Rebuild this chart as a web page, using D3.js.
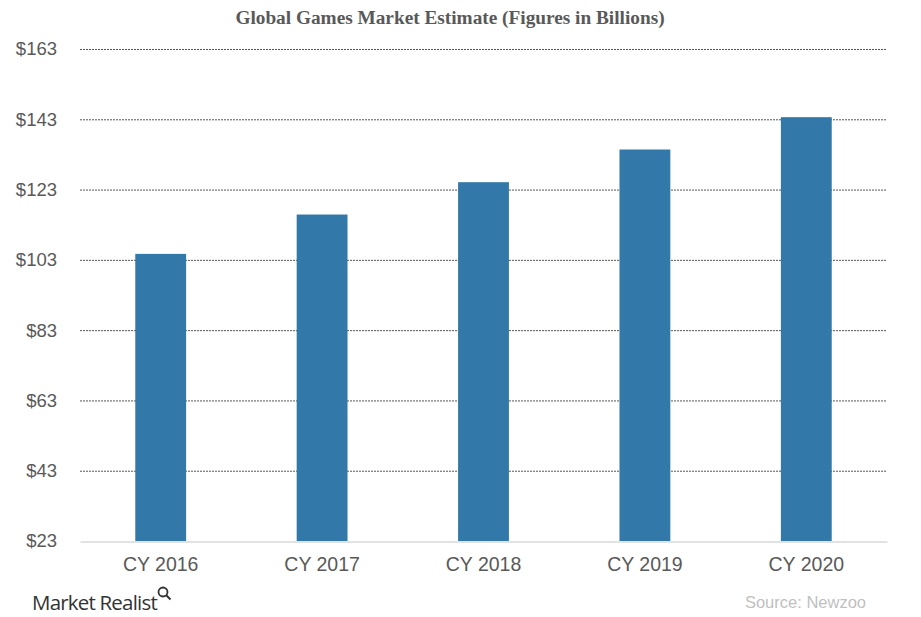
<!DOCTYPE html>
<html>
<head>
<meta charset="utf-8">
<script src="https://cdn.jsdelivr.net/npm/d3@7"></script>
<style>
  body { margin: 0; background: #fff; }
</style>
</head>
<body>
<div id="chart"></div>
<script>
var years = ["CY 2016", "CY 2017", "CY 2018", "CY 2019", "CY 2020"];
var revenue = [104.7, 115.9, 125.1, 134.4, 143.6];
var yTicks = [23, 43, 63, 83, 103, 123, 143, 163];

var width = 921,
    height = 617;
var margin = {top: 49, right: 34, bottom: 76, left: 80};

var svg = d3.select("#chart")
    .append("svg")
    .attr("width", width)
    .attr("height", height);

var x = d3.scaleBand()
    .domain(years)
    .range([margin.left, width - margin.right])
    .paddingInner(0.685)
    .paddingOuter(0.3425);

var y = d3.scaleLinear()
    .domain([23, 163])
    .range([height - margin.bottom, margin.top]);

// title
svg.append("text")
    .attr("x", 450)
    .attr("y", 24)
    .attr("text-anchor", "middle")
    .attr("font-family", "'Liberation Serif', 'Times New Roman', serif")
    .attr("font-weight", "bold")
    .attr("font-size", 19.3)
    .attr("fill", "#595959")
    .text("Global Games Market Estimate (Figures in Billions)");

// gridlines
svg.append("g")
    .selectAll("line")
    .data(yTicks.slice(1))
    .enter().append("line")
    .attr("x1", margin.left)
    .attr("x2", width - margin.right)
    .attr("y1", function (d) { return y(d) + 0.5; })
    .attr("y2", function (d) { return y(d) + 0.5; })
    .attr("stroke", "#555")
    .attr("stroke-width", 1)
    .attr("stroke-dasharray", "2,1");

// y axis labels
var yAxis = d3.axisLeft(y)
    .tickValues(yTicks)
    .tickSize(0)
    .tickPadding(0)
    .tickFormat(function (d) { return "$" + d; });

svg.append("g")
    .attr("transform", "translate(" + (margin.left - 23) + ",0)")
    .call(yAxis)
    .call(function (g) { g.select(".domain").remove(); })
    .selectAll("text")
    .attr("font-family", "'Liberation Sans', Arial, sans-serif")
    .attr("font-size", 18.5)
    .attr("fill", "#595959");

// bars
svg.append("g")
    .selectAll("rect")
    .data(revenue)
    .enter().append("rect")
    .attr("x", function (d, i) { return x(years[i]); })
    .attr("y", function (d) { return y(d); })
    .attr("width", x.bandwidth())
    .attr("height", function (d) { return y(23) - y(d); })
    .attr("fill", "#3278a8");

// x axis
var xAxis = d3.axisBottom(x).tickSize(0).tickPadding(16);
svg.append("g")
    .attr("transform", "translate(0," + (y(23) + 0.5) + ")")
    .call(xAxis)
    .call(function (g) {
        g.select(".domain").attr("stroke", "#d9d9d9").attr("stroke-width", 1.5);
    })
    .selectAll("text")
    .attr("font-family", "'Liberation Sans', Arial, sans-serif")
    .attr("font-size", 19.5)
    .attr("fill", "#595959");

// footer
svg.append("text")
    .attr("x", 32)
    .attr("y", 610)
    .attr("font-family", "'Open Sans', 'DejaVu Sans', sans-serif")
    .attr("font-size", 20.5)
    .attr("fill", "#333")
    .attr("letter-spacing", -0.8)
    .text("Market Realist");

var logo = svg.append("g").attr("transform", "translate(163,592)");
logo.append("circle")
    .attr("r", 4.5)
    .attr("fill", "none")
    .attr("stroke", "#333")
    .attr("stroke-width", 1.8);
logo.append("line")
    .attr("x1", 3).attr("y1", 3)
    .attr("x2", 7.5).attr("y2", 7.5)
    .attr("stroke", "#333")
    .attr("stroke-width", 2);

svg.append("text")
    .attr("x", 866)
    .attr("y", 608)
    .attr("text-anchor", "end")
    .attr("font-family", "'Liberation Sans', Arial, sans-serif")
    .attr("font-size", 16.5)
    .attr("fill", "#bfbfbf")
    .text("Source:  Newzoo");
</script>
</body>
</html>
